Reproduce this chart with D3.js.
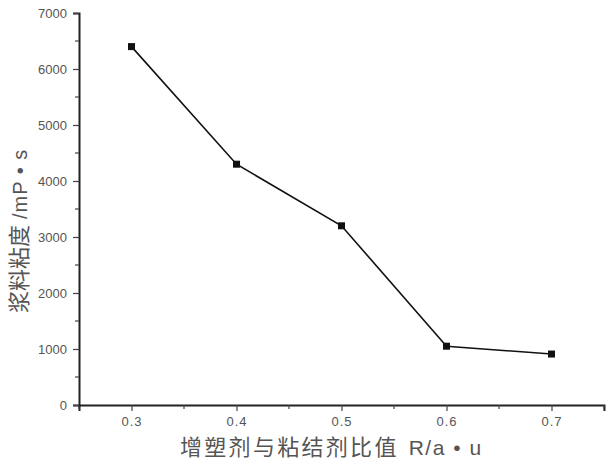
<!DOCTYPE html>
<html><head><meta charset="utf-8">
<script src="https://cdn.jsdelivr.net/npm/d3@7"></script>
<style>body{margin:0;background:#fff;}svg{display:block;}</style>
</head><body>
<script>
const ratios = [0.3, 0.4, 0.5, 0.6, 0.7];
const viscosity = [6400, 4300, 3200, 1050, 910];
const xTicks = [0.3, 0.4, 0.5, 0.6, 0.7];
const yTicks = [0, 1000, 2000, 3000, 4000, 5000, 6000, 7000];
const xLabelCJK = "增塑剂与粘结剂比值";
const xLabelLatin = "R/a • u";
const yLabelCJK = "浆料粘度";
const yLabelLatin = "/mP • s";

const W = 608, H = 462;
const svg = d3.select("body").append("svg").attr("width", W).attr("height", H);
const x = d3.scaleLinear().domain([0.25, 0.75]).range([79, 604]);
const y = d3.scaleLinear().domain([0, 7000]).range([405, 13]);
const tickColor = "#555";
const font = "Arial, 'Liberation Sans', sans-serif";
const cjk = "'Noto Sans CJK SC', sans-serif";

const xMinor = d3.range(0.25, 0.7501, 0.05).map(v => +v.toFixed(2));
const yMinor = d3.range(500, 7000, 1000);

const gx = svg.append("g").attr("transform", "translate(0,405)")
  .call(d3.axisBottom(x).tickValues(xTicks).tickFormat(d3.format(".1f")).tickSize(6).tickPadding(6));
gx.select(".domain").attr("stroke", "#222").attr("stroke-width", 2);
gx.selectAll(".tick line").attr("stroke", "#444").attr("stroke-width", 1.2);
gx.selectAll(".tick text").attr("fill", tickColor).attr("font-size", 13).attr("font-family", font)
  .attr("letter-spacing", 1);
svg.append("g").selectAll("line").data(xMinor.filter(v => !xTicks.some(t => Math.abs(t - v) < 1e-6))).join("line")
  .attr("x1", d => x(d)).attr("x2", d => x(d)).attr("y1", 405).attr("y2", 409)
  .attr("stroke", "#444").attr("stroke-width", 1.2);

const gy = svg.append("g").attr("transform", "translate(79,0)")
  .call(d3.axisLeft(y).tickValues(yTicks).tickFormat(d3.format("d")).tickSize(6).tickPadding(6));
gy.select(".domain").attr("stroke", "#222").attr("stroke-width", 2);
gy.selectAll(".tick line").attr("stroke", "#444").attr("stroke-width", 1.2);
gy.selectAll(".tick text").attr("fill", tickColor).attr("font-size", 13).attr("font-family", font);
svg.append("g").selectAll("line").data(yMinor).join("line")
  .attr("x1", 75).attr("x2", 79).attr("y1", d => y(d)).attr("y2", d => y(d))
  .attr("stroke", "#444").attr("stroke-width", 1.2);

const data = ratios.map((r, i) => ({r, v: viscosity[i]}));
svg.append("path").datum(data)
  .attr("d", d3.line().x(d => x(d.r)).y(d => y(d.v)))
  .attr("fill", "none").attr("stroke", "#111").attr("stroke-width", 1.6);
svg.append("g").selectAll("rect").data(data).join("rect")
  .attr("x", d => x(d.r) - 3.5).attr("y", d => y(d.v) - 3.5)
  .attr("width", 7).attr("height", 7).attr("fill", "#111");

const xl = svg.append("text").attr("x", 180).attr("y", 455).attr("fill", "#555");
xl.append("tspan").attr("font-family", cjk).attr("font-size", 22).attr("letter-spacing", 2.3).text(xLabelCJK);
xl.append("tspan").attr("dx", 10).attr("font-family", font).attr("font-size", 21).attr("letter-spacing", 1.5).text(xLabelLatin);

const yl = svg.append("text").attr("transform", "translate(27,313) rotate(-90)").attr("fill", "#555");
yl.append("tspan").attr("font-family", cjk).attr("font-size", 22).text(yLabelCJK);
yl.append("tspan").attr("dx", 6).attr("font-family", font).attr("font-size", 20).attr("letter-spacing", 1).text(yLabelLatin);
</script>
</body></html>
